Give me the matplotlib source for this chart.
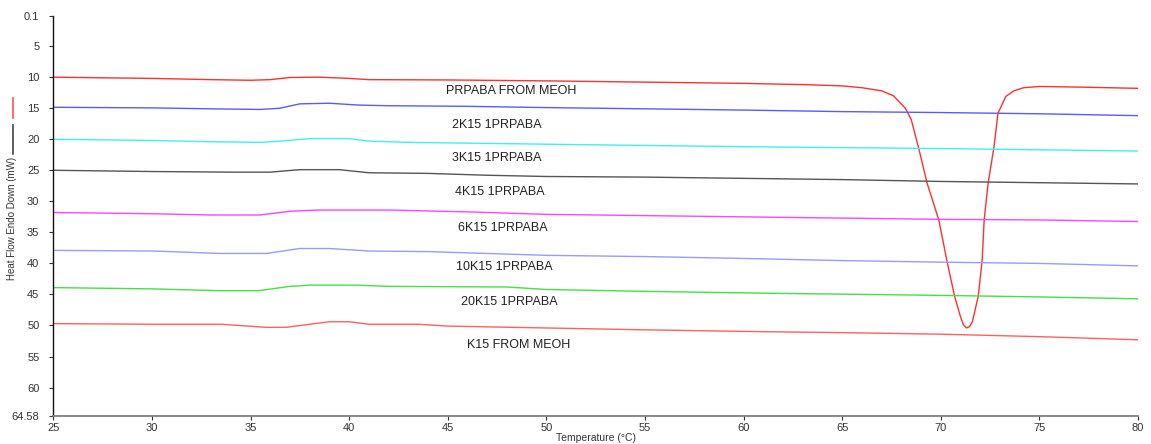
import matplotlib
matplotlib.use("Agg")
import matplotlib.pyplot as plt
from matplotlib.lines import Line2D

plt.rcParams['font.family'] = ['Liberation Sans', 'DejaVu Sans']

# ---- data ----
T_prpaba = [25, 30, 33, 35, 36, 37, 38.5, 40, 41, 45, 50, 55, 60, 63, 65, 66, 67,
            67.6, 68.2, 68.5, 68.9, 69.3, 69.9, 70.3, 70.7, 71.0, 71.15, 71.3, 71.45,
            71.6, 71.9, 72.1, 72.2, 72.4, 72.7, 72.9, 73.3, 73.7, 74.2, 75, 77, 80]
prpaba = [10.0, 10.2, 10.4, 10.5, 10.4, 10.05, 10.0, 10.2, 10.4, 10.45, 10.6, 10.8,
          11.0, 11.2, 11.4, 11.7, 12.2, 13.0, 15.0, 16.8, 21.7, 27.0, 33.0, 39.4,
          45.3, 48.6, 49.9, 50.4, 50.2, 49.4, 45.3, 39.4, 33.0, 27.1, 21.2, 15.8,
          13.1, 12.2, 11.7, 11.5, 11.6, 11.8]

T_2k = [25, 30, 33, 35.5, 36.5, 37.5, 39, 40.5, 42, 46, 50, 55, 60, 65, 70, 75, 80]
k2 = [14.85, 14.95, 15.1, 15.2, 15.0, 14.3, 14.2, 14.5, 14.6, 14.7, 14.9, 15.1,
      15.3, 15.55, 15.7, 15.9, 16.2]

T_3k = [25, 30, 33, 35.5, 36.5, 38, 40, 41, 43, 50, 55, 60, 65, 70, 75, 80]
k3 = [20.0, 20.2, 20.4, 20.5, 20.3, 19.9, 19.9, 20.3, 20.5, 20.8, 21.0, 21.2,
      21.35, 21.5, 21.7, 21.9]

T_4k = [25, 30, 34, 36, 37.5, 39.5, 41, 44, 47, 50, 55, 60, 65, 70, 75, 80]
k4 = [25.0, 25.2, 25.3, 25.3, 24.9, 24.9, 25.4, 25.5, 25.8, 26.0, 26.1, 26.3,
      26.5, 26.8, 27.0, 27.2]

T_6k = [25, 30, 33, 35.5, 37, 38.5, 42, 46, 50, 55, 60, 65, 70, 75, 80]
k6 = [31.8, 32.0, 32.2, 32.2, 31.6, 31.4, 31.4, 31.7, 32.1, 32.3, 32.5, 32.7,
      32.9, 33.0, 33.25]

T_10k = [25, 30, 33.5, 35.8, 37.5, 39, 41, 44, 46, 50, 55, 60, 65, 70, 75, 80]
k10 = [37.9, 38.0, 38.4, 38.4, 37.6, 37.6, 38.0, 38.1, 38.3, 38.7, 38.9, 39.2,
       39.55, 39.8, 40.0, 40.4]

T_20k = [25, 30, 33.5, 35.4, 37, 38, 40.4, 42, 48, 50, 55, 61, 65, 70, 75, 80]
k20 = [43.9, 44.1, 44.4, 44.4, 43.7, 43.5, 43.5, 43.7, 43.8, 44.2, 44.5, 44.8,
       44.95, 45.15, 45.4, 45.7]

T_k15 = [25, 30, 33.5, 35.8, 36.8, 38, 39, 40, 41, 43.5, 45, 50, 55, 61, 65, 70, 75, 80]
k15 = [49.7, 49.8, 49.8, 50.3, 50.3, 49.8, 49.4, 49.4, 49.8, 49.8, 50.1, 50.4,
       50.7, 51.0, 51.15, 51.4, 51.8, 52.3]

labels = ["PRPABA FROM MEOH", "2K15 1PRPABA", "3K15 1PRPABA", "4K15 1PRPABA",
          "6K15 1PRPABA", "10K15 1PRPABA", "20K15 1PRPABA", "K15 FROM MEOH"]
label_x = [48.2, 47.5, 47.5, 47.65, 47.8, 47.85, 48.1, 48.6]
label_y = [12.3, 17.7, 23.1, 28.5, 34.3, 40.5, 46.2, 53.1]

x_ticks = [25, 30, 35, 40, 45, 50, 55, 60, 65, 70, 75, 80]
y_ticks = [0.1, 5, 10, 15, 20, 25, 30, 35, 40, 45, 50, 55, 60, 64.58]
y_ticklabels = ["0.1", "5", "10", "15", "20", "25", "30", "35", "40", "45", "50",
                "55", "60", "64.58"]

series = [(T_prpaba, prpaba, "#ff3030"),
          (T_2k, k2, "#5a5aff"),
          (T_3k, k3, "#40f0f0"),
          (T_4k, k4, "#555555"),
          (T_6k, k6, "#ff44ff"),
          (T_10k, k10, "#9a9aff"),
          (T_20k, k20, "#44e044"),
          (T_k15, k15, "#ff6060")]

# ---- figure ----
W, H = 1151, 444
fig = plt.figure(figsize=(W / 100, H / 100), dpi=100)
ax = fig.add_axes([53.3 / W, 28 / H, (1138 - 53.3) / W, (416 - 15.7) / H])

for t, v, c in series:
    ax.plot(t, v, color=c, lw=1.0, solid_joinstyle='round')

for lab, lx, ly in zip(labels, label_x, label_y):
    ax.text(lx, ly, lab, ha='center', va='center', fontsize=9, color='#222222')

ax.set_xlim(25, 80)
ax.set_ylim(64.58, 0.1)
ax.set_xticks(x_ticks)
ax.set_yticks(y_ticks)
ax.set_yticklabels(y_ticklabels)
ax.tick_params(axis='both', labelsize=8, length=3, width=0.8, color='#333333',
               labelcolor='#333333')
ax.tick_params(axis='y', pad=7)
ax.tick_params(axis='x', pad=2)

for s in ['top', 'right']:
    ax.spines[s].set_visible(False)
ax.spines['left'].set_color('#111111')
ax.spines['left'].set_linewidth(1.0)
ax.spines['bottom'].set_color('#808080')
ax.spines['bottom'].set_linewidth(1.3)

ax.set_xlabel("Temperature (°C)", fontsize=7.5, color='#333333', labelpad=0)

# y label with legend-like line markers (figure pixel coordinates)
fig.text(12.5 / W, 1 - 218 / H, "Heat Flow Endo Down (mW)", rotation=90,
         ha='center', va='center', fontsize=7, color='#333333')
fig.add_artist(Line2D([12.7 / W, 12.7 / W], [1 - 98 / H, 1 - 118 / H],
                      color='#ff5050', lw=1.2, transform=fig.transFigure))
fig.add_artist(Line2D([12.7 / W, 12.7 / W], [1 - 125 / H, 1 - 154 / H],
                      color='#444444', lw=1.2, transform=fig.transFigure))

fig.savefig("out.png", dpi=100)
